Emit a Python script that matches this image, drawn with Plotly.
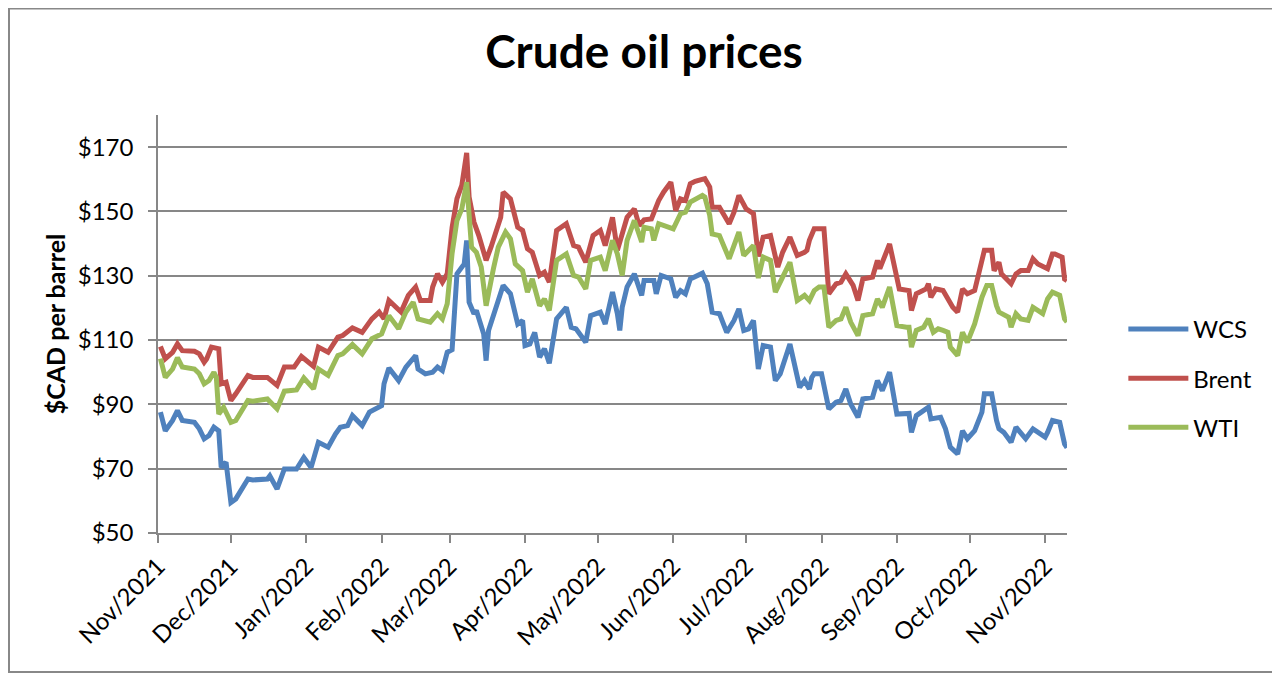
import pandas as pd
import plotly.graph_objs as go

# day offsets are counted from 2021-11-01
START = pd.Timestamp("2021-11-01")

wcs_days = [1, 3, 6, 8, 10, 15, 17, 19, 21, 23, 25, 26, 28, 30, 32, 37, 39, 45, 46, 49,
            52, 57, 60, 63, 66, 70, 73, 75, 78, 80, 84, 87, 92, 93, 95, 99, 102, 106, 107, 110,
            113, 115, 117, 119, 121, 122, 123, 126, 127, 128, 130, 131, 134, 135, 136, 140, 142, 145, 148, 150,
            151, 153, 155, 157, 159, 161, 164, 168, 170, 172, 176, 178, 182, 184, 187, 189, 190, 191, 193, 196,
            199, 200, 204, 205, 207, 211, 213, 215, 217, 219, 222, 224, 226, 228, 231, 234, 237, 239, 241, 243,
            245, 247, 249, 252, 254, 256, 260, 264, 266, 268, 269, 270, 273, 276, 279, 281, 283, 285, 288, 290,
            294, 296, 298, 301, 304, 308, 309, 310, 312, 317, 318, 322, 324, 326, 329, 331, 333, 336, 339, 340,
            343, 345, 346, 348, 351, 353, 357, 360, 365, 366, 368, 371, 373, 374]
wcs_price = [87.6, 81.8, 85.0, 88.1, 85.0, 84.4, 82.4, 79.3, 80.3, 82.9, 81.8, 70.4, 72.0, 59.5, 60.6, 66.8, 66.5, 66.8, 67.8, 63.7,
             69.9, 69.9, 73.5, 70.4, 78.2, 76.7, 80.8, 82.9, 83.4, 86.5, 83.4, 87.6, 89.6, 96.4, 101.3, 97.4, 101.6, 105.2, 101.0, 99.5,
             100.0, 101.6, 100.5, 106.2, 107.0, 119.2, 130.6, 133.7, 141.0, 121.8, 118.2, 119.2, 111.9, 103.6, 113.0, 122.3, 127.0, 124.4, 115.0, 116.1,
             108.3, 108.8, 112.4, 104.7, 107.3, 102.8, 116.6, 120.2, 114.0, 113.5, 109.3, 117.6, 118.7, 115.0, 124.9, 118.2, 113.0, 120.2, 126.5, 130.6,
             123.9, 128.5, 128.5, 124.4, 130.1, 129.0, 123.3, 125.4, 124.4, 129.0, 130.1, 130.8, 127.5, 118.7, 118.2, 112.4, 116.1, 119.7, 113.0, 113.5,
             116.1, 101.0, 108.3, 107.8, 97.4, 99.5, 108.8, 95.3, 97.4, 94.8, 98.4, 99.5, 99.5, 88.6, 90.7, 91.2, 94.8, 90.1, 86.0, 91.7,
             92.2, 97.4, 94.3, 100.0, 87.0, 87.0, 87.2, 81.3, 86.5, 89.1, 85.5, 86.0, 82.4, 76.7, 74.6, 81.8, 79.3, 81.8, 87.6, 93.3,
             93.3, 85.0, 82.4, 81.3, 78.2, 82.9, 79.3, 82.4, 79.8, 81.3, 85.0, 84.4, 77.7, 76.5]

brent_days = [1, 3, 6, 8, 10, 15, 17, 19, 20, 22, 25, 26, 28, 30, 32, 37, 39, 45, 49, 52,
              56, 59, 64, 66, 70, 74, 76, 80, 84, 88, 91, 93, 95, 100, 103, 106, 108, 112, 113, 115,
              117, 119, 121, 123, 125, 126, 127, 128, 130, 132, 135, 137, 141, 142, 145, 148, 150, 152, 154, 157,
              159, 161, 164, 168, 171, 173, 176, 179, 182, 184, 187, 189, 191, 193, 196, 198, 200, 203, 206, 208,
              211, 213, 215, 217, 219, 221, 225, 227, 228, 231, 235, 237, 239, 242, 245, 247, 249, 252, 255, 257,
              260, 263, 266, 267, 268, 270, 274, 276, 279, 281, 283, 286, 288, 290, 294, 296, 297, 301, 305, 309,
              310, 312, 316, 317, 318, 320, 323, 324, 327, 329, 331, 333, 336, 340, 343, 344, 346, 347, 351, 353,
              355, 358, 360, 362, 366, 368, 369, 372, 373, 374]
brent_price = [108.0, 104.2, 106.2, 108.8, 106.7, 106.5, 105.7, 103.1, 104.1, 107.8, 107.3, 96.4, 96.9, 91.2, 93.3, 99.0, 98.4, 98.4, 95.9, 101.6,
               101.6, 104.9, 101.8, 107.8, 106.2, 110.9, 111.4, 113.8, 112.4, 116.6, 118.7, 116.6, 122.3, 118.7, 123.9, 126.5, 122.3, 122.3, 126.5, 130.6,
               128.0, 130.6, 145.0, 154.0, 158.1, 162.2, 168.2, 154.5, 146.7, 142.5, 134.8, 138.9, 148.2, 156.0, 153.9, 145.1, 144.1, 138.4, 137.3, 130.1,
               131.1, 128.0, 144.1, 146.2, 139.4, 138.9, 134.2, 142.5, 144.1, 139.4, 148.2, 137.9, 142.5, 148.2, 150.8, 145.6, 147.4, 147.7, 153.4, 156.0,
               159.1, 150.3, 153.9, 153.4, 158.6, 159.4, 160.2, 157.6, 151.3, 151.3, 146.2, 149.8, 155.0, 150.8, 149.3, 136.0, 142.0, 142.5, 132.7, 137.3,
               142.0, 136.3, 137.3, 137.9, 141.0, 144.6, 144.6, 124.4, 127.5, 128.0, 130.6, 127.0, 122.3, 129.0, 129.6, 134.8, 132.2, 139.9, 125.9, 125.4,
               119.2, 124.4, 125.9, 127.5, 123.3, 125.9, 125.4, 123.9, 120.2, 118.7, 125.9, 124.4, 125.4, 137.9, 137.9, 131.6, 134.2, 130.6, 127.5, 130.6,
               131.6, 131.6, 135.3, 133.7, 132.2, 136.8, 136.8, 135.8, 129.0, 128.5]

wti_days = [1, 3, 6, 8, 10, 15, 17, 19, 21, 23, 24, 25, 27, 30, 32, 37, 39, 45, 49, 52,
            57, 60, 64, 66, 70, 74, 76, 80, 84, 88, 92, 95, 99, 102, 105, 107, 112, 115, 117, 119,
            121, 123, 125, 127, 129, 131, 133, 135, 138, 140, 143, 145, 147, 150, 152, 154, 157, 159, 161, 164,
            168, 171, 173, 176, 178, 182, 184, 187, 189, 191, 193, 196, 199, 200, 203, 204, 206, 212, 215, 217,
            219, 224, 225, 227, 228, 231, 235, 237, 239, 241, 245, 247, 249, 252, 254, 257, 260, 263, 266, 268,
            270, 272, 274, 276, 279, 281, 283, 285, 288, 290, 294, 296, 298, 301, 304, 308, 309, 310, 312, 315,
            317, 319, 321, 323, 325, 326, 329, 331, 333, 336, 339, 341, 343, 345, 346, 350, 351, 353, 355, 358,
            360, 364, 366, 368, 371, 373, 374]
wti_price = [104.2, 98.4, 101.0, 104.5, 101.6, 101.0, 99.5, 96.4, 97.4, 100.0, 98.4, 87.0, 89.1, 84.4, 85.0, 91.2, 91.0, 91.7, 88.6, 94.1,
             94.5, 98.2, 94.8, 101.0, 99.0, 105.2, 105.7, 108.6, 105.7, 110.4, 111.9, 117.6, 113.5, 118.7, 121.8, 116.6, 115.6, 118.2, 116.6, 121.3,
             137.0, 147.2, 150.8, 159.1, 138.9, 137.3, 132.7, 120.7, 132.2, 138.9, 143.6, 141.5, 133.7, 131.6, 124.9, 129.0, 120.7, 122.8, 119.2, 134.8,
             136.8, 130.1, 129.6, 125.9, 134.8, 135.8, 131.6, 141.0, 136.8, 130.1, 141.0, 147.2, 140.5, 145.1, 144.6, 141.0, 146.2, 144.6, 149.3, 149.8,
             152.9, 155.0, 154.5, 148.8, 143.0, 142.5, 135.3, 139.4, 143.6, 136.3, 139.4, 129.3, 135.8, 134.8, 124.9, 129.6, 134.2, 122.3, 123.9, 122.3,
             125.4, 126.5, 126.5, 114.0, 116.1, 116.6, 120.2, 115.6, 111.4, 117.6, 118.2, 122.8, 120.2, 126.5, 114.5, 114.0, 114.0, 107.8, 113.0, 114.0,
             116.6, 112.4, 113.5, 113.0, 112.4, 107.8, 105.2, 112.4, 109.3, 115.0, 123.3, 127.0, 127.0, 120.7, 118.7, 117.1, 114.0, 118.2, 116.6, 116.1,
             120.2, 118.2, 122.8, 124.9, 123.9, 116.6, 115.6]

tick_dates = pd.date_range("2021-11-01", "2022-11-01", freq="MS")
y_ticks = [50, 70, 90, 110, 130, 150, 170]
y_labels = [f"${v}" for v in y_ticks]

series = [
    ("WCS", wcs_days, wcs_price, "#4F81BD"),
    ("Brent", brent_days, brent_price, "#C0504D"),
    ("WTI", wti_days, wti_price, "#9BBB59"),
]

FONT = "Lato"
GRID = "#878787"

fig = go.Figure()
for name, days, price, color in series:
    dates = START + pd.to_timedelta(days, unit="D")
    fig.add_trace(go.Scatter(
        x=dates,
        y=price,
        mode="lines",
        name=name,
        legendgroup=name,
        line=dict(color=color, width=5),
    ))

# page body adds 8px around the figure, so the figure is 8px smaller
fig.update_layout(
    width=1272,
    height=665,
    margin=dict(l=150, r=213, t=107, b=140),
    paper_bgcolor="white",
    plot_bgcolor="white",
    font=dict(family=FONT, size=24, color="black"),
    title=dict(text="<b>Crude oil prices</b>", x=0.5, xref="container", xanchor="center",
               y=0.934, yanchor="middle", font=dict(family=FONT, size=46)),
    showlegend=True,
    legend=dict(x=1.062, xanchor="left", y=0.37, yanchor="middle",
                tracegroupgap=15, itemwidth=60, font=dict(size=24)),
    xaxis=dict(
        range=[START, START + pd.Timedelta(days=374)],
        tickvals=tick_dates,
        tickformat="%b/%Y",
        tickangle=-45,
        showgrid=False,
        showline=True, linecolor=GRID, linewidth=1.5,
        ticks="outside", ticklen=8, tickcolor=GRID, tickwidth=1.5,
        zeroline=False,
    ),
    yaxis=dict(
        range=[50, 180],
        tickvals=y_ticks,
        ticktext=y_labels,
        ticklabelstandoff=10,
        showgrid=True, gridcolor=GRID, gridwidth=1.5,
        showline=True, linecolor=GRID, linewidth=1.5,
        ticks="outside", ticklen=8, tickcolor=GRID, tickwidth=1.5,
        zeroline=False,
        title=dict(text="<b>$CAD per barrel</b>", font=dict(size=25), standoff=5),
    ),
    shapes=[dict(type="rect", xref="paper", yref="paper",
                 x0=-149.0 / 909, x1=1120.0 / 909, y0=-139.0 / 418, y1=(418 + 106.5) / 418,
                 line=dict(color="#888888", width=2), layer="below")],
)

fig.write_html("out.html")
